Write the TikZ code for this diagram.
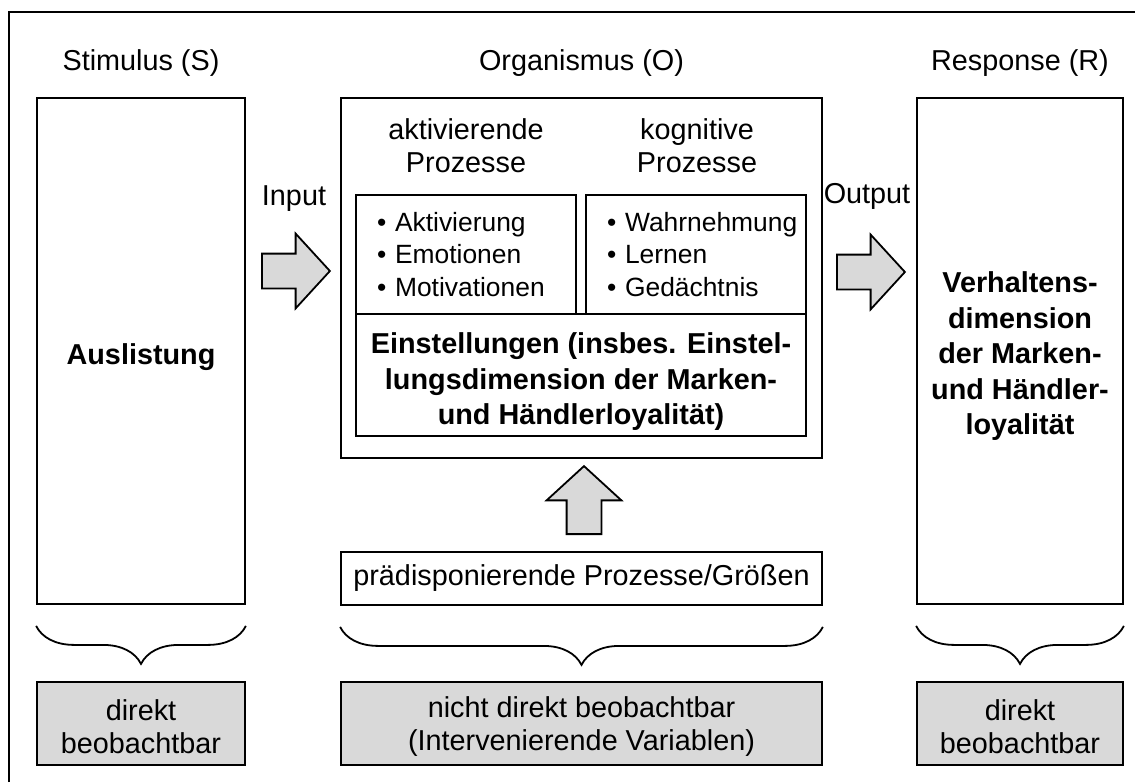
\documentclass[tikz,border=0pt]{standalone}
\usepackage{fontspec}
\setmainfont{Liberation Sans}
\usetikzlibrary{shapes.arrows, decorations.pathreplacing, positioning}

\newcommand{\diafont}{\fontsize{28.8}{33}\selectfont}
\newcommand{\diasmall}{\fontsize{26.4}{32.5}\selectfont}
\newcommand{\diabold}{\fontsize{28.8}{35.5}\selectfont\bfseries}
\newcommand{\dn}[1]{\rule{0pt}{#1}}

\tikzset{
  box/.style={draw, line width=1.8pt, inner sep=0pt, align=center, font=\diafont},
  obs/.style={box, fill=gray!30},
  bigarrow/.style={single arrow, draw, line width=1.8pt, fill=gray!30, inner xsep=0pt, inner ysep=16.5pt,
    minimum height=68pt, single arrow head extend=20pt, single arrow tip angle=95, anchor=tail},
  curly/.style={decorate, decoration={brace, mirror, amplitude=38pt}, line width=1.8pt},
  lbl/.style={inner sep=0pt, align=center, font=\diafont},
  bullets/.style={box, align=left, text width=178pt, font=\diasmall},
}

\begin{document}
\begin{tikzpicture}[x=1pt, y={(0pt,-1pt)}]
    \useasboundingbox (0,0) rectangle (1135,782);
    \draw[line width=1.8pt] (9,782) |- (1135,12);

    % S - O - R
    \node[lbl] (stimlbl) at (141,63) {Stimulus (S)};
    \node[lbl] (orglbl) at (581.5,63) {Organismus (O)};
    \node[lbl] (resplbl) at (1020,63) {Response (R)};

    \node[box, minimum width=208pt, minimum height=506pt, font=\diabold] (stim) at (141,351) {\dn{33pt}Auslistung};
    \node[box, minimum width=481pt, minimum height=360pt] (org) at (581.5,278) {};
    \node[box, minimum width=206pt, minimum height=506pt, font=\diabold] (resp) at (1020,351)
        {\dn{31pt}Verhaltens-\\dimension\\der Marken-\\und Händler-\\loyalität};

    % inside O
    \node[lbl] (aktlbl) at (466,146) {aktivierende\\Prozesse};
    \node[lbl] (koglbl) at (697,146) {kognitive\\Prozesse};
    \node[bullets, minimum width=220pt, minimum height=119pt] (akt) at (466,254.5)
        {\textbullet~Aktivierung\\\textbullet~Emotionen\\\textbullet~Motivationen};
    \node[bullets, minimum width=220pt, minimum height=119pt] (kog) at (696,254.5)
        {\textbullet~Wahrnehmung\\\textbullet~Lernen\\\textbullet~Gedächtnis};
    \node[box, minimum width=450pt, minimum height=122pt, font=\diabold] (einst) at (581,375)
        {\dn{34pt}Einstellungen (insbes. Einstel-\\lungsdimension der Marken-\\und Händlerloyalität)};

    \node[box, minimum width=481pt, minimum height=53pt] (praed) at (581.5,578.5) {prädisponierende Prozesse/Größen};

    % Pfeile
    \node[lbl] (inlbl) at (294,199) {Input};
    \node[lbl] (outlbl) at (867,196) {Output};
    \node[bigarrow] (inarr) at (261,271) {};
    \node[bigarrow] (outarr) at (836,272) {};
    \node[bigarrow, rotate=90] (uparr) at (584,535) {};

    % Klammern
    \draw[curly] ([yshift=-21pt]stim.south west) -- ([yshift=-21pt]stim.south east);
    \draw[curly] ([yshift=-21pt]praed.south west) -- ([yshift=-21pt]praed.south east);
    \draw[curly] ([yshift=-21pt]resp.south west) -- ([yshift=-21pt]resp.south east);

    \node[obs, minimum width=208pt, minimum height=83pt] (stimobs) at (141,723.5) {\dn{27pt}direkt\\beobachtbar};
    \node[obs, minimum width=481pt, minimum height=83pt] (orgobs) at (581.5,723.5)
        {\dn{27pt}nicht direkt beobachtbar\\(Intervenierende Variablen)};
    \node[obs, minimum width=206pt, minimum height=83pt] (respobs) at (1020,723.5) {\dn{27pt}direkt\\beobachtbar};
\end{tikzpicture}
\end{document}
